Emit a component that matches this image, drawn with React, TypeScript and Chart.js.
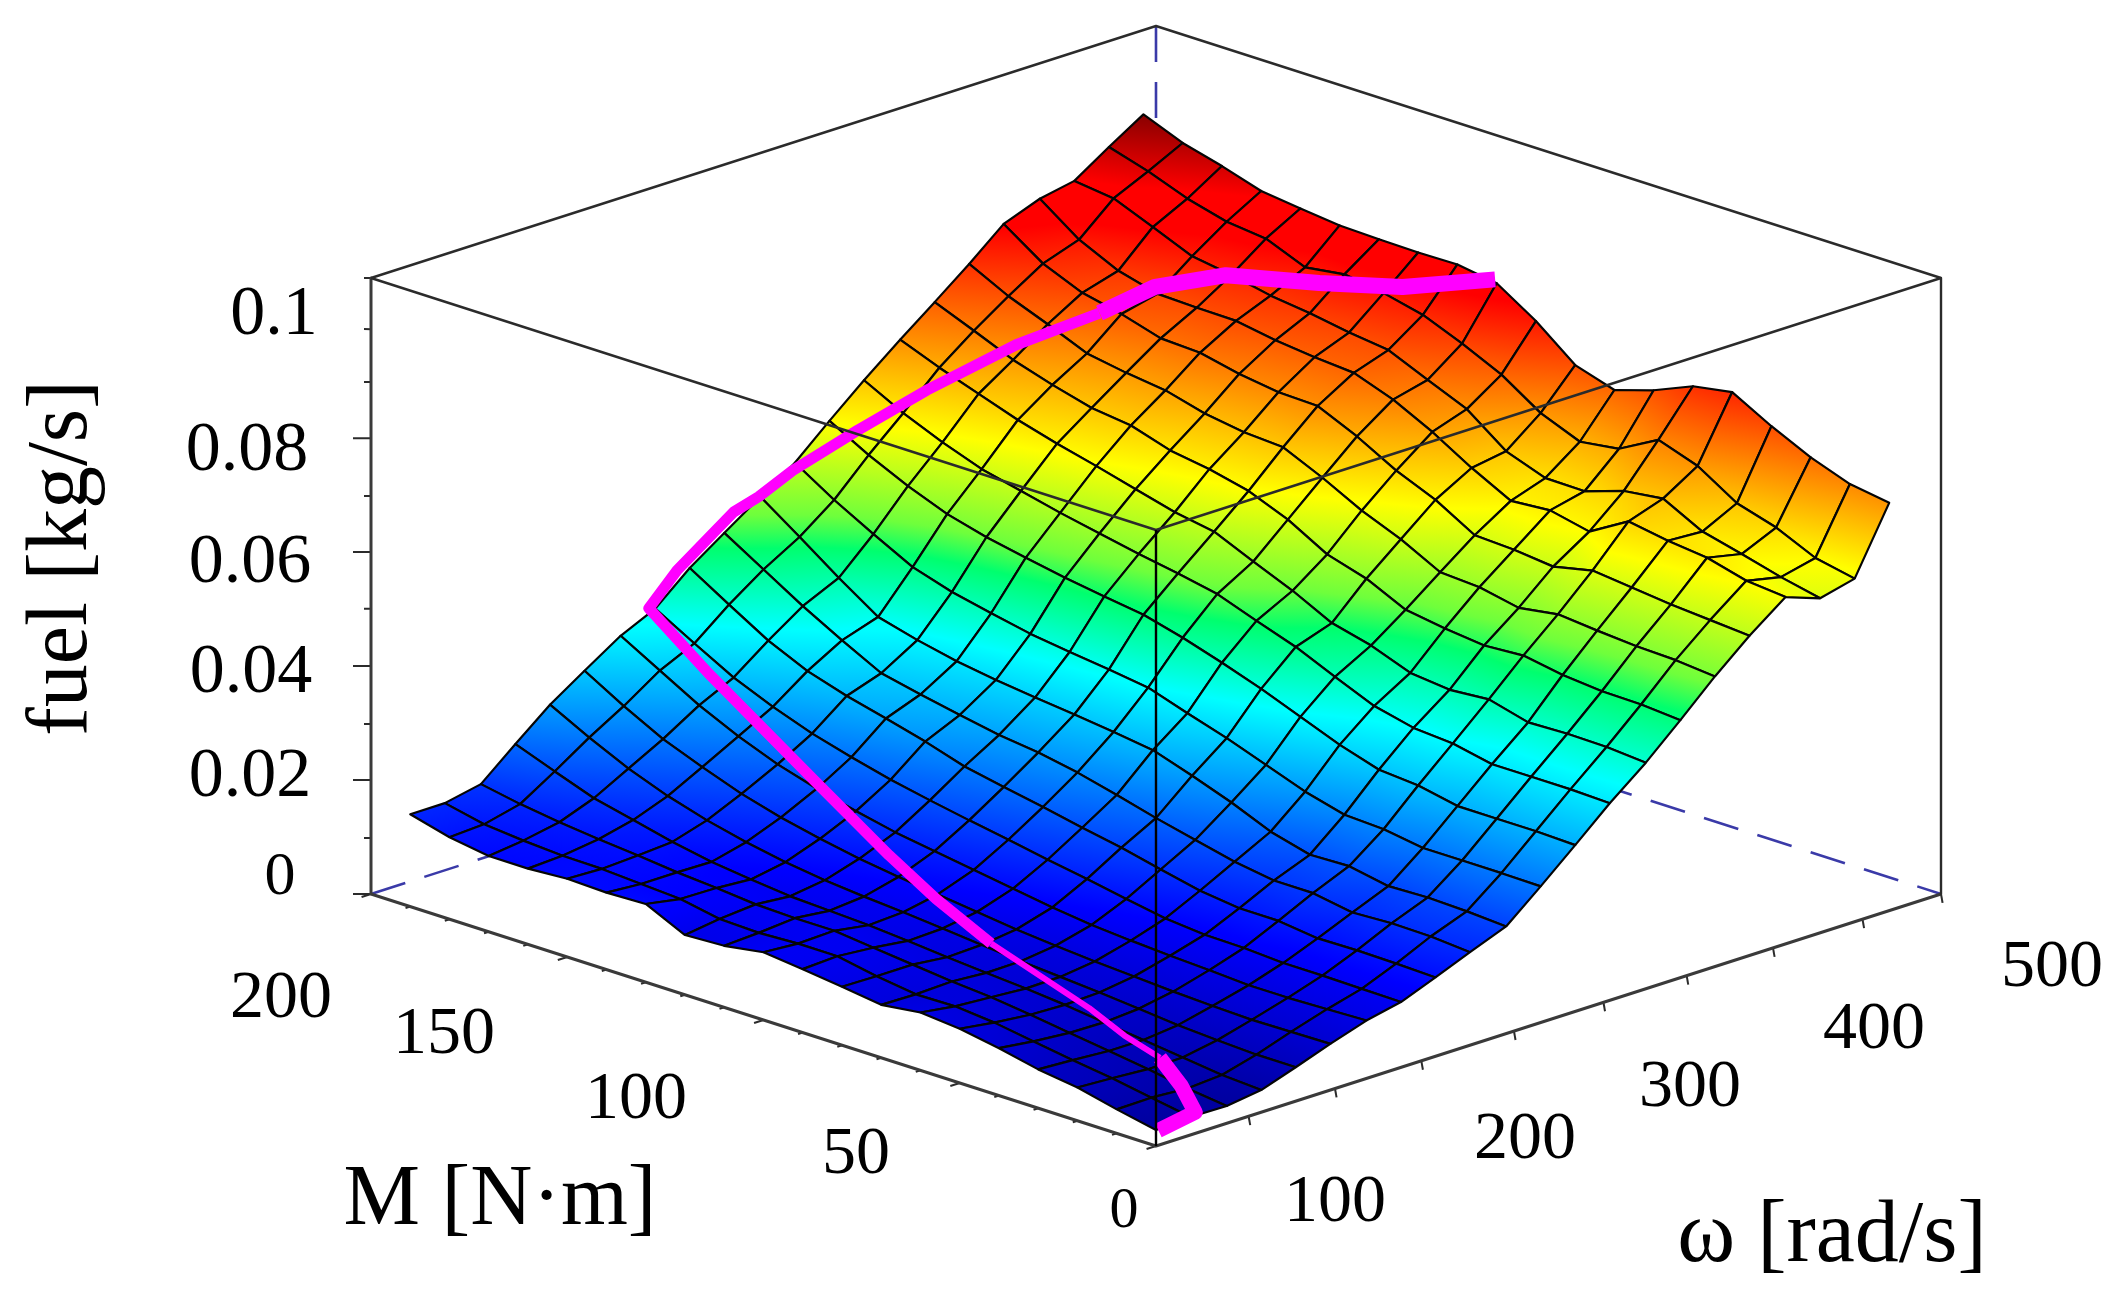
import React, { useEffect, useRef } from "react";
import { Chart, registerables } from "chart.js";

Chart.register(...registerables);

// ---------- data ----------
const torqueAxis = [0, 10, 20, 30, 40, 50, 60, 70, 80, 90, 100, 110, 120, 130, 140, 150, 160, 170, 180, 190];
const speedAxis = [0, 22, 45, 67, 89, 111, 134, 156, 178, 200, 223, 245, 267, 289, 312, 334, 356, 378, 401, 423, 445, 467];

const fuelW00 = [.0026,.0039,.0054,.0063,.0077,.0088,.0094,.0086,.0095,.0103,.0110,.0100,.0097,.0127,.0125,.0127,.0123,.0123,.0133,.0150];
const fuelW01 = [.0029,.0040,.0051,.0060,.0070,.0080,.0086,.0085,.0094,.0106,.0106,.0103,.0105,.0117,.0121,.0125,.0126,.0130,.0136,.0150];
const fuelW02 = [.0028,.0036,.0047,.0056,.0065,.0074,.0082,.0087,.0094,.0101,.0108,.0108,.0110,.0116,.0121,.0128,.0134,.0141,.0150,.0162];
const fuelW03 = [.0036,.0040,.0048,.0056,.0064,.0072,.0078,.0083,.0088,.0094,.0099,.0102,.0105,.0112,.0120,.0132,.0147,.0162,.0185,.0209];
const fuelW04 = [.0055,.0055,.0058,.0062,.0068,.0074,.0079,.0084,.0090,.0096,.0102,.0107,.0113,.0122,.0134,.0149,.0168,.0192,.0222,.0255];
const fuelW05 = [.0075,.0074,.0073,.0075,.0078,.0082,.0086,.0091,.0097,.0105,.0113,.0121,.0130,.0142,.0156,.0174,.0197,.0222,.0255,.0292];
const fuelW06 = [.0094,.0092,.0090,.0090,.0094,.0097,.0101,.0106,.0114,.0124,.0134,.0144,.0154,.0168,.0184,.0203,.0228,.0258,.0294,.0330];
const fuelW07 = [.0106,.0107,.0108,.0108,.0112,.0113,.0119,.0130,.0142,.0153,.0165,.0176,.0188,.0201,.0217,.0235,.0258,.0285,.0320,.0356];
const fuelW08 = [.0128,.0130,.0131,.0130,.0138,.0138,.0146,.0160,.0175,.0187,.0200,.0212,.0225,.0245,.0262,.0278,.0298,.0327,.0365,.0404];
const fuelW09 = [.0151,.0156,.0157,.0154,.0165,.0165,.0175,.0190,.0205,.0222,.0238,.0250,.0258,.0270,.0283,.0297,.0330,.0365,.0404,.0443];
const fuelW10 = [.0174,.0178,.0180,.0178,.0190,.0188,.0205,.0232,.0255,.0276,.0285,.0293,.0300,.0308,.0318,.0332,.0349,.0392,.0438,.0483];
const fuelW11 = [.0221,.0222,.0222,.0222,.0232,.0235,.0252,.0275,.0298,.0318,.0339,.0348,.0356,.0365,.0378,.0392,.0412,.0445,.0480,.0520];
const fuelW12 = [.0270,.0272,.0272,.0272,.0285,.0290,.0310,.0335,.0360,.0382,.0402,.0419,.0428,.0438,.0450,.0463,.0480,.0505,.0535,.0570];
const fuelW13 = [.0320,.0322,.0322,.0322,.0335,.0340,.0355,.0382,.0410,.0432,.0455,.0468,.0479,.0492,.0505,.0520,.0535,.0558,.0585,.0618];
const fuelW14 = [.0367,.0372,.0373,.0371,.0388,.0383,.0390,.0414,.0430,.0462,.0489,.0517,.0528,.0545,.0562,.0578,.0596,.0618,.0640,.0665];
const fuelW15 = [.0418,.0423,.0424,.0430,.0441,.0437,.0444,.0454,.0484,.0503,.0539,.0565,.0580,.0590,.0610,.0618,.0635,.0655,.0682,.0708];
const fuelW16 = [.0471,.0477,.0479,.0484,.0490,.0480,.0493,.0497,.0530,.0556,.0589,.0618,.0622,.0632,.0649,.0657,.0668,.0695,.0720,.0752];
const fuelW17 = [.0519,.0524,.0529,.0536,.0543,.0529,.0536,.0539,.0576,.0603,.0638,.0667,.0669,.0678,.0692,.0695,.0714,.0728,.0755,.0799];
const fuelW18 = [.0563,.0569,.0586,.0593,.0604,.0567,.0581,.0576,.0609,.0647,.0679,.0702,.0707,.0714,.0725,.0726,.0728,.0745,.0775,.0821];
const fuelW19 = [.0543,.0557,.0574,.0590,.0623,.0615,.0594,.0595,.0618,.0666,.0693,.0721,.0729,.0740,.0748,.0761,.0771,.0798,.0824,.0832];
const fuelW20 = [.0557,.0570,.0599,.0618,.0658,.0680,.0645,.0636,.0662,.0704,.0734,.0760,.0775,.0785,.0776,.0802,.0809,.0826,.0850,.0869];
const fuelW21 = [.0662,.0672,.0695,.0725,.0760,.0749,.0722,.0702,.0722,.0773,.0814,.0824,.0823,.0824,.0826,.0833,.0841,.0861,.0878,.0904];
const fuelRows = [fuelW00, fuelW01, fuelW02, fuelW03, fuelW04, fuelW05, fuelW06, fuelW07, fuelW08, fuelW09, fuelW10,
  fuelW11, fuelW12, fuelW13, fuelW14, fuelW15, fuelW16, fuelW17, fuelW18, fuelW19, fuelW20, fuelW21];

const curveTorque = [100,110,120,135,145,150,160,170,180,185,188,190,190,190,170,135,110,94,74,39,26,13,4.4,2,0];
const curveSpeed = [466,432,404,382,362,339,311,279,260,231,217,206,170,152,140,120,105,95,80,55,45,35,27,30,1.5];
const curveFuel = [.0821,.0816,.0825,.0825,.0802,.0768,.0719,.0651,.0581,.0529,.0492,.0472,.0407,.036,.0305,.0219,.0161,.0131,.0112,.0099,.0089,.0088,.0067,.0026,.0024];

const fuelTicks = [0, .0091, .0185, .0276, .0370, .0463, .0555, .0646, .0740, .0831, .0917, .1];
const torqueTicks = [0, 10, 20, 30, 40, 50, 60, 70, 80, 90, 100, 110, 120, 130, 140, 150, 160, 170, 180, 190, 200];
const speedTicks = [59, 114, 169, 228, 285, 338, 393, 450, 500];
const fuelTickLabels = ["0", "0.02", "0.04", "0.06", "0.08", "0.1"];
const torqueTickLabels = ["0", "50", "100", "150", "200"];
const speedTickLabels = ["100", "200", "300", "400", "500"];

// ---------- axonometric view ----------
const W = 2118, H = 1299;
const ORIGIN_X = 1156, ORIGIN_Y = 1146, SPREAD_X = 785, SPREAD_Y = 252, RISE = 616;
const M_MAX = 200, W_MAX = 500, F_MAX = 0.1, COLOR_MAX = 0.0907;

const project = (m: number, w: number, f: number) => ({
  x: ORIGIN_X + SPREAD_X * (w / W_MAX - m / M_MAX),
  y: ORIGIN_Y - SPREAD_Y * (w / W_MAX + m / M_MAX) - RISE * (f / F_MAX),
});

const STOPS: [number, number[]][] = [
  [0, [0, 0, 128]], [0.13, [0, 0, 255]], [0.375, [0, 255, 255]], [0.47, [0, 255, 110]],
  [0.51, [110, 255, 60]], [0.625, [255, 255, 0]], [0.875, [255, 0, 0]], [0.92, [255, 0, 0]], [1, [130, 0, 0]],
];
const colorAt = (f: number) => {
  const t = Math.max(0, Math.min(1, f / COLOR_MAX));
  for (let k = 1; k < STOPS.length; k++) {
    if (t <= STOPS[k][0]) {
      const [t0, c0] = STOPS[k - 1];
      const [t1, c1] = STOPS[k];
      const u = (t - t0) / (t1 - t0);
      return `rgb(${c0.map((c, n) => Math.round(c + (c1[n] - c) * u)).join(",")})`;
    }
  }
  return "rgb(130,0,0)";
};

const quadFill = (pts: { x: number; y: number }[], fs: number[]) => {
  let memo: any = null;
  return (c: any) => {
    if (memo) return memo;
    const sx = c.chart.scales?.x, sy = c.chart.scales?.y;
    const zMin = Math.min(...fs), zMax = Math.max(...fs);
    if (!sx || !sy || !(sx.width > 0) || !(sy.height > 0)) return colorAt((zMin + zMax) / 2);
    const px = pts.map((p) => sx.getPixelForValue(p.x));
    const py = pts.map((p) => sy.getPixelForValue(p.y));
    const dx1 = px[2] - px[0], dy1 = py[2] - py[0], dz1 = fs[2] - fs[0];
    const dx2 = px[3] - px[1], dy2 = py[3] - py[1], dz2 = fs[3] - fs[1];
    const det = dx1 * dy2 - dx2 * dy1;
    const a = (dz1 * dy2 - dz2 * dy1) / det, b = (dx1 * dz2 - dx2 * dz1) / det;
    const g2 = a * a + b * b;
    const cx = px.reduce((s, v) => s + v, 0) / 4, cy = py.reduce((s, v) => s + v, 0) / 4;
    const zc = fs.reduce((s, v) => s + v, 0) / 4;
    if (!(g2 > 0) || zMax - zMin < 1e-6) {
      memo = colorAt(zc);
      return memo;
    }
    const grad = c.chart.ctx.createLinearGradient(
      cx + (a * (zMin - zc)) / g2, cy + (b * (zMin - zc)) / g2,
      cx + (a * (zMax - zc)) / g2, cy + (b * (zMax - zc)) / g2,
    );
    grad.addColorStop(0, colorAt(zMin));
    for (const [t] of STOPS) {
      const z = t * COLOR_MAX;
      if (z > zMin && z < zMax) grad.addColorStop((z - zMin) / (zMax - zMin), colorAt(z));
    }
    grad.addColorStop(1, colorAt(zMax));
    memo = grad;
    return memo;
  };
};

const lineSet = (data: { x: number; y: number }[], extra: any) => ({
  data, fill: false, pointRadius: 0, pointHitRadius: 0, tension: 0, clip: false,
  borderCapStyle: "butt", borderJoinStyle: "round", ...extra,
});

const buildDatasets = () => {
  const sets: any[] = [];
  const box = { borderColor: "#2b2b2b", borderWidth: 2.4 };

  // drawn last, so first in the list: lines in front of the surface
  sets.push(lineSet([project(0, 0, 0), project(0, 0, F_MAX)], { borderColor: "#000", borderWidth: 2.4 }));
  sets.push(lineSet([project(M_MAX, 0, F_MAX), project(0, 0, F_MAX), project(0, W_MAX, F_MAX)], box));

  const curvePts = curveTorque.map((m, k) => project(m, curveSpeed[k], curveFuel[k]));
  sets.push(lineSet(curvePts, {
    borderColor: "#ff00ff", borderWidth: 11,
    segment: {
      borderWidth: (s: any) => {
        const k = s.p0DataIndex;
        if (k < 5) return 16;
        if (k >= 18 && k < 21) return 6;
        if (k >= 21) return 15;
        return 11;
      },
    },
  }));

  // surface, nearest cells first
  const cells: any[] = [];
  for (let j = 0; j < speedAxis.length - 1; j++) {
    for (let i = 0; i < torqueAxis.length - 1; i++) {
      const corners = [[i, j], [i + 1, j], [i + 1, j + 1], [i, j + 1]];
      const pts = corners.map(([a, b]) => project(torqueAxis[a], speedAxis[b], fuelRows[b][a]));
      const fs = corners.map(([a, b]) => fuelRows[b][a]);
      cells.push({ depth: i + j, set: lineSet([...pts, pts[0]], {
        fill: "shape", backgroundColor: quadFill(pts, fs), borderColor: "#050505", borderWidth: 2.2,
      }) });
    }
  }
  cells.sort((p, q) => p.depth - q.depth);
  cells.forEach((c) => sets.push(c.set));

  // frame, axes and ticks
  sets.push(lineSet([project(M_MAX, 0, F_MAX), project(M_MAX, W_MAX, F_MAX), project(0, W_MAX, F_MAX), project(0, W_MAX, 0)], box));
  sets.push(lineSet([project(M_MAX, 0, F_MAX), project(M_MAX, 0, 0), project(0, 0, 0), project(0, W_MAX, 0)], { ...box, borderColor: "#3a3a3a", borderWidth: 3 }));
  fuelTicks.forEach((f, k) => {
    const long = k % 2 === 0 && k < 10;
    sets.push(lineSet([project(M_MAX, 0, f), project(M_MAX + (long ? 2.3 : 0.9), long ? -5.7 : -2.2, f)], { ...box, borderWidth: 2 }));
  });
  torqueTicks.forEach((m, k) => {
    const long = k % 5 === 0;
    sets.push(lineSet([project(m, 0, 0), project(m, long ? -6 : -3, 0)], { ...box, borderWidth: 2 }));
  });
  speedTicks.forEach((w) => {
    sets.push(lineSet([project(0, w, 0), project(-0.8, w - 1, -0.0012)], { ...box, borderWidth: 2 }));
  });
  const hidden = { borderColor: "#3a3aa8", borderWidth: 2.6, borderDash: [36, 20] };
  sets.push(lineSet([project(M_MAX, 0, 0), project(M_MAX, W_MAX, 0), project(0, W_MAX, 0)], hidden));
  sets.push(lineSet([project(M_MAX, W_MAX, F_MAX), project(M_MAX, W_MAX, 0)], hidden));
  return sets;
};

const textPlugin = {
  id: "surfaceText",
  afterDraw(chart: any) {
    const ctx = chart.ctx;
    const put = (text: string, x: number, y: number, size: number, rot = 0) => {
      ctx.save();
      ctx.translate(x, y);
      if (rot) ctx.rotate(rot);
      ctx.font = `${size}px "Liberation Serif"`;
      ctx.fillStyle = "#000";
      ctx.textAlign = "center";
      ctx.textBaseline = "middle";
      ctx.fillText(text, 0, 0);
      ctx.restore();
    };
    const fuelPos = [[280, 878], [250, 778], [251, 674], [250, 564], [247, 452], [274, 316]];
    fuelTickLabels.forEach((t, k) => put(t, fuelPos[k][0], fuelPos[k][1], k === 0 ? 62 : 70));
    const torquePos = [[1124, 1212], [856, 1155], [636, 1100], [444, 1035], [281, 999]];
    torqueTickLabels.forEach((t, k) => put(t, torquePos[k][0], torquePos[k][1], k === 0 ? 58 : 68));
    const speedPos = [[1335, 1203], [1525, 1140], [1690, 1088], [1874, 1030], [2052, 968]];
    speedTickLabels.forEach((t, k) => put(t, speedPos[k][0], speedPos[k][1], 68));
    put("fuel [kg/s]", 63, 558, 86, -Math.PI / 2);
    put("M [N·m]", 500, 1201, 86);
    put("ω [rad/s]", 1832, 1238, 88);
  },
};

export default function App() {
  const ref = useRef<HTMLCanvasElement | null>(null);
  useEffect(() => {
    document.body.style.margin = "0";
    document.body.style.background = "#fff";
    const chart = new Chart(ref.current as HTMLCanvasElement, {
      type: "line",
      data: { datasets: buildDatasets() },
      options: {
        animation: false,
        responsive: false,
        devicePixelRatio: 1,
        parsing: false,
        normalized: false,
        spanGaps: true,
        layout: { padding: 0 },
        events: [],
        plugins: { legend: { display: false }, tooltip: { enabled: false }, title: { display: false } },
        scales: {
          x: { type: "linear", min: 0, max: W, display: false },
          y: { type: "linear", min: 0, max: H, reverse: true, display: false },
        },
      } as any,
      plugins: [textPlugin],
    });
    return () => chart.destroy();
  }, []);
  return <canvas ref={ref} width={W} height={H} style={{ display: "block", width: W, height: H }} />;
}
